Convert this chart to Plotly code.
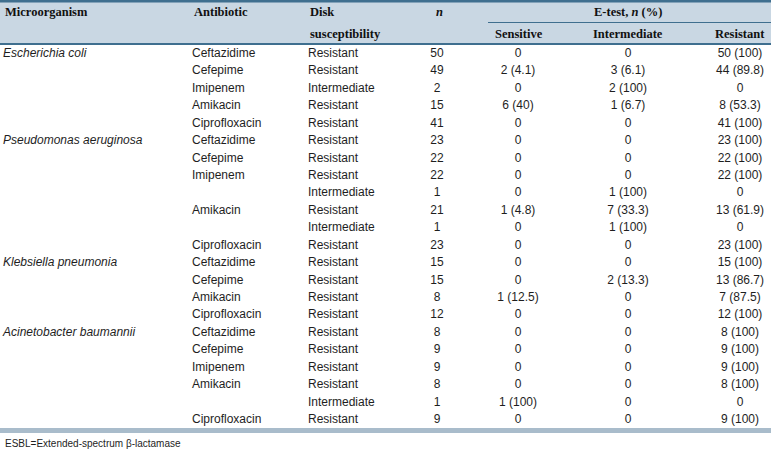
import plotly.graph_objects as go

# ---- data ----
organisms = ["Escherichia coli", "", "", "", "",
             "Pseudomonas aeruginosa", "", "", "", "", "", "",
             "Klebsiella pneumonia", "", "", "",
             "Acinetobacter baumannii", "", "", "", "", ""]
antibiotics = ["Ceftazidime", "Cefepime", "Imipenem", "Amikacin", "Ciprofloxacin",
               "Ceftazidime", "Cefepime", "Imipenem", "", "Amikacin", "", "Ciprofloxacin",
               "Ceftazidime", "Cefepime", "Amikacin", "Ciprofloxacin",
               "Ceftazidime", "Cefepime", "Imipenem", "Amikacin", "", "Ciprofloxacin"]
disk = ["Resistant", "Resistant", "Intermediate", "Resistant", "Resistant",
        "Resistant", "Resistant", "Resistant", "Intermediate", "Resistant", "Intermediate", "Resistant",
        "Resistant", "Resistant", "Resistant", "Resistant",
        "Resistant", "Resistant", "Resistant", "Resistant", "Intermediate", "Resistant"]
n_vals = [50, 49, 2, 15, 41,
          23, 22, 22, 1, 21, 1, 23,
          15, 15, 8, 12,
          8, 9, 9, 8, 1, 9]
sensitive = ["0", "2 (4.1)", "0", "6 (40)", "0",
             "0", "0", "0", "0", "1 (4.8)", "0", "0",
             "0", "0", "1 (12.5)", "0",
             "0", "0", "0", "0", "1 (100)", "0"]
intermediate = ["0", "3 (6.1)", "2 (100)", "1 (6.7)", "0",
                "0", "0", "0", "1 (100)", "7 (33.3)", "1 (100)", "0",
                "0", "2 (13.3)", "0", "0",
                "0", "0", "0", "0", "0", "0"]
resistant = ["50 (100)", "44 (89.8)", "0", "8 (53.3)", "41 (100)",
             "23 (100)", "22 (100)", "22 (100)", "0", "13 (61.9)", "0", "23 (100)",
             "15 (100)", "13 (86.7)", "7 (87.5)", "12 (100)",
             "8 (100)", "9 (100)", "9 (100)", "8 (100)", "0", "9 (100)"]
headers = ["Microorganism", "Antibiotic", "Disk", "susceptibility", "<i>n</i>"]
group_header = "E-test, <i>n</i> (%)"
sub_headers = ["Sensitive", "Intermediate", "Resistant"]
footnote = "ESBL=Extended-spectrum β-lactamase"

# ---- layout constants ----
W, H = 771, 453
ROW0, ROWH = 54, 17.43
rows_y = [ROW0 + i * ROWH for i in range(len(disk))]
BODY_FONT = dict(family="Liberation Sans, Arial", size=12, color="#1e1e1e")
HEAD_FONT = dict(family="Liberation Serif, Times New Roman", size=12.5, color="#111111")
DARK = "#3f6f8f"

fig = go.Figure()

def col(texts, x, pos, italic=False):
    t = [("<i>%s</i>" % s if (italic and s) else s) for s in texts]
    fig.add_trace(go.Scatter(x=[x] * len(t), y=rows_y, text=t, mode="text",
                             textposition=pos, textfont=BODY_FONT,
                             hoverinfo="skip", showlegend=False))

col(organisms, 3, "middle right", italic=True)
col(antibiotics, 192, "middle right")
col(disk, 308, "middle right")
col([str(v) for v in n_vals], 437, "middle center")
col(sensitive, 518, "middle center")
col(intermediate, 628, "middle center")
col(resistant, 740, "middle center")

# header background and rules
shapes = [
    dict(type="rect", xref="x", yref="y", x0=0, x1=W, y0=0, y1=44,
         fillcolor="#c9d7e3", line_width=0, layer="below"),
    dict(type="rect", xref="x", yref="y", x0=0, x1=W, y0=0, y1=2.5,
         fillcolor=DARK, line_width=0),
    dict(type="line", xref="x", yref="y", x0=488, x1=W, y0=22.5, y1=22.5,
         line=dict(color=DARK, width=1)),
    dict(type="rect", xref="x", yref="y", x0=0, x1=W, y0=43, y1=45,
         fillcolor=DARK, line_width=0),
    dict(type="rect", xref="x", yref="y", x0=0, x1=W, y0=428, y1=433,
         fillcolor="#a9bccb", line_width=0),
]

ann = []
def hdr(text, x, y, xanchor):
    ann.append(dict(text="<b>%s</b>" % text, x=x, y=y, xref="x", yref="y",
                    xanchor=xanchor, yanchor="middle", showarrow=False,
                    font=HEAD_FONT, align="left"))

hdr(headers[0], 3, 12, "left")
hdr(headers[1], 192, 12, "left")
hdr(headers[2], 308, 12, "left")
hdr(headers[3], 308, 34, "left")
hdr(headers[4], 439, 12, "center")
hdr(group_header, 628, 12, "center")
for t, x in zip(sub_headers, [519, 628, 740]):
    hdr(t, x, 34, "center")

ann.append(dict(text=footnote, x=3, y=443, xref="x", yref="y", xanchor="left",
                yanchor="middle", showarrow=False,
                font=dict(family="Liberation Sans, Arial", size=10, color="#1e1e1e")))

fig.update_layout(
    width=W, height=H, margin=dict(l=0, r=0, t=0, b=0),
    paper_bgcolor="white", plot_bgcolor="white",
    xaxis=dict(range=[0, W], visible=False, fixedrange=True),
    yaxis=dict(range=[H, 0], visible=False, fixedrange=True),
    shapes=shapes, annotations=ann,
)

fig.write_html("out.html", config={"displayModeBar": False},
               post_script="document.body.style.margin='0';"
                           "document.body.style.overflow='hidden';")
